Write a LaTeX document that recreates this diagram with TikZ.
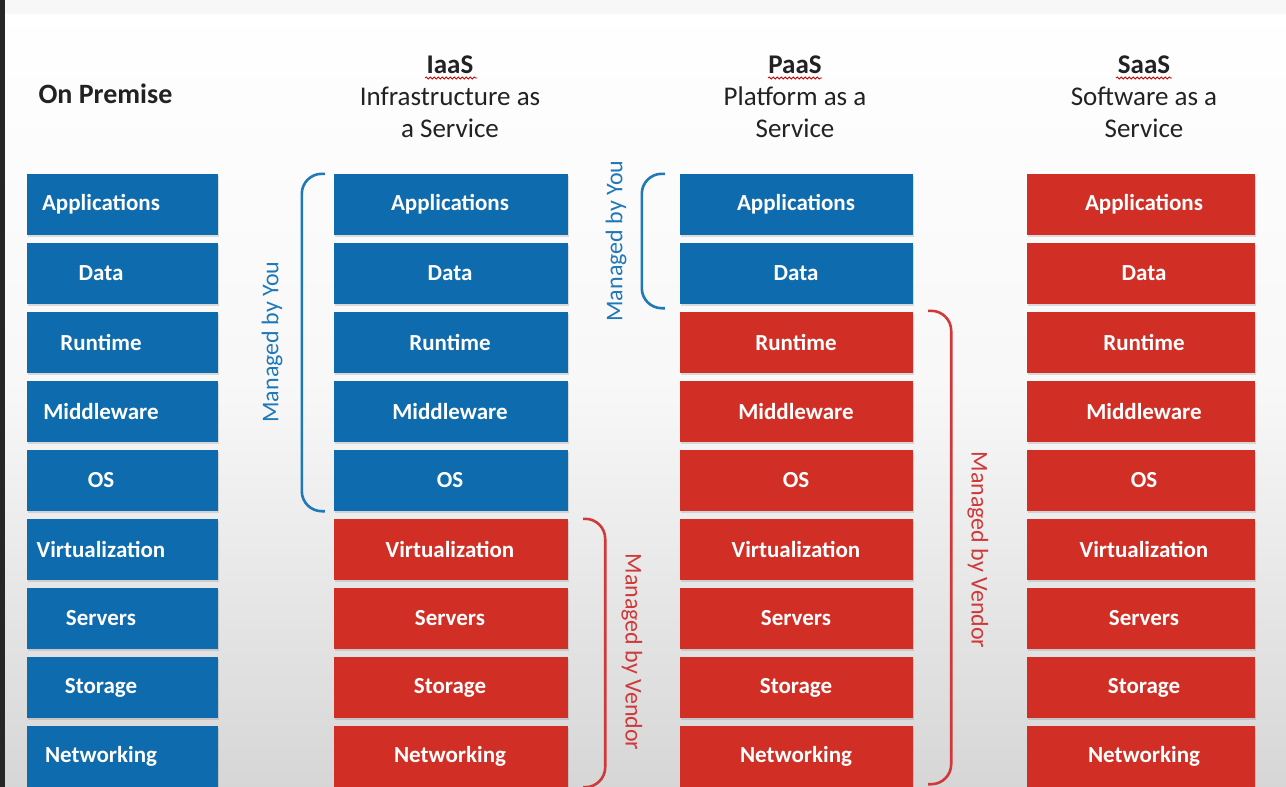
\documentclass[tikz,border=0pt]{standalone}
\usepackage{fontspec}
\setmainfont{Carlito}
\usetikzlibrary{shadows,decorations.pathmorphing,calc}
\definecolor{cblue}{HTML}{0E6BAD}
\definecolor{cred}{HTML}{D12F25}
\definecolor{bblue}{HTML}{1F78B8}
\definecolor{bred}{HTML}{D0393A}
\definecolor{htext}{HTML}{222222}
\tikzset{
  box/.style={rectangle, minimum width=#1, minimum height=61pt, inner sep=0pt,
    drop shadow={shadow xshift=1pt, shadow yshift=-2pt, opacity=0.25}},
  bluebox/.style={box=#1, fill=cblue},
  redbox/.style={box=#1, fill=cred},
  boxtext/.style={text=white, font=\fontsize{23}{26}\selectfont\bfseries, inner sep=0pt},
  header/.style={text=htext, align=center, font=\fontsize{27}{32}\selectfont},
  bracketblue/.style={draw=bblue, line width=2.6pt, rounded corners=20pt},
  bracketred/.style={draw=bred, line width=2.6pt, rounded corners=20pt},
  mlabel/.style={font=\fontsize{24}{26}\selectfont, inner sep=0pt},
  squig/.style={draw=red!80!black, line width=0.8pt, decorate,
    decoration={snake, amplitude=1.1pt, segment length=4pt}}
}
\begin{document}
\begin{tikzpicture}[x=1pt,y=-1pt]
\useasboundingbox (0,0) rectangle (1286,787);
\shade[top color=white, bottom color=black!16, middle color=black!3] (0,0) rectangle (1286,787);
\fill[black!3] (0,0) rectangle (1286,14);
\fill[black!85] (0,0) rectangle (5,787);

% headers
\node[header, font=\fontsize{28}{32}\selectfont\bfseries, anchor=west] (hop) at (35,94) {On Premise};
\node[header] (hiaas) at (450,97) {\textbf{IaaS}\\Infrastructure as\\a Service};
\node[header] (hpaas) at (795,97) {\textbf{PaaS}\\Platform as a\\Service};
\node[header] (hsaas) at (1144,97) {\textbf{SaaS}\\Software as a\\Service};
\draw[squig] (425,78) -- (477,78);
\draw[squig] (768,78) -- (822,78);
\draw[squig] (1116,78) -- (1172,78);

% rows
\foreach \i/\t in {1/Applications,2/Data,3/Runtime,4/Middleware,5/OS,6/Virtualization,7/Servers,8/Storage,9/Networking}{
  \pgfmathsetmacro{\yy}{204.5+69*(\i-1)}
  % On premise
  \node[bluebox=191pt] (o\i) at (122.5,\yy) {};
  \node[boxtext] (ot\i) at (101,\yy) {\t};
  % IaaS
  \pgfmathparse{\i<6 ? "bluebox" : "redbox"}\edef\st{\pgfmathresult}
  \node[\st=234pt] (i\i) at (451,\yy) {};
  \node[boxtext] (it\i) at (450,\yy) {\t};
  % PaaS
  \pgfmathparse{\i<3 ? "bluebox" : "redbox"}\edef\st{\pgfmathresult}
  \node[\st=233pt] (p\i) at (796.5,\yy) {};
  \node[boxtext] (pt\i) at (796,\yy) {\t};
  % SaaS
  \node[redbox=228pt] (s\i) at (1141,\yy) {};
  \node[boxtext] (st\i) at (1144,\yy) {\t};
}

% IaaS managed by you
\draw[bracketblue] ($(i1.north west)+(-9,0)$) -- ($(i1.north west)+(-32,0)$) -- ($(i5.south west)+(-32,0)$) -- ($(i5.south west)+(-9,0)$);
\node[mlabel, text=bblue, rotate=90] (lyou1) at (272,342) {Managed by You};
% IaaS managed by vendor
\draw[bracketred] ($(i6.north east)+(15,0)$) -- ($(i6.north east)+(37,0)$) -- ($(i9.south east)+(37,0)$) -- ($(i9.south east)+(15,0)$);
\node[mlabel, text=bred, rotate=-90] (lven1) at (632,652) {Managed by Vendor};
% PaaS managed by you
\draw[bracketblue] ($(p1.north west)+(-15,0)$) -- ($(p1.north west)+(-38,0)$) -- ($(p2.south west)+(-38,4)$) -- ($(p2.south west)+(-15,4)$);
\node[mlabel, text=bblue, rotate=90] (lyou2) at (616,241) {Managed by You};
% PaaS managed by vendor
\draw[bracketred] ($(p3.north east)+(15,-1)$) -- ($(p3.north east)+(38,-1)$) -- ($(p9.south east)+(38,-3)$) -- ($(p9.south east)+(15,-3)$);
\node[mlabel, text=bred, rotate=-90] (lven2) at (978,550) {Managed by Vendor};
\end{tikzpicture}
\end{document}
